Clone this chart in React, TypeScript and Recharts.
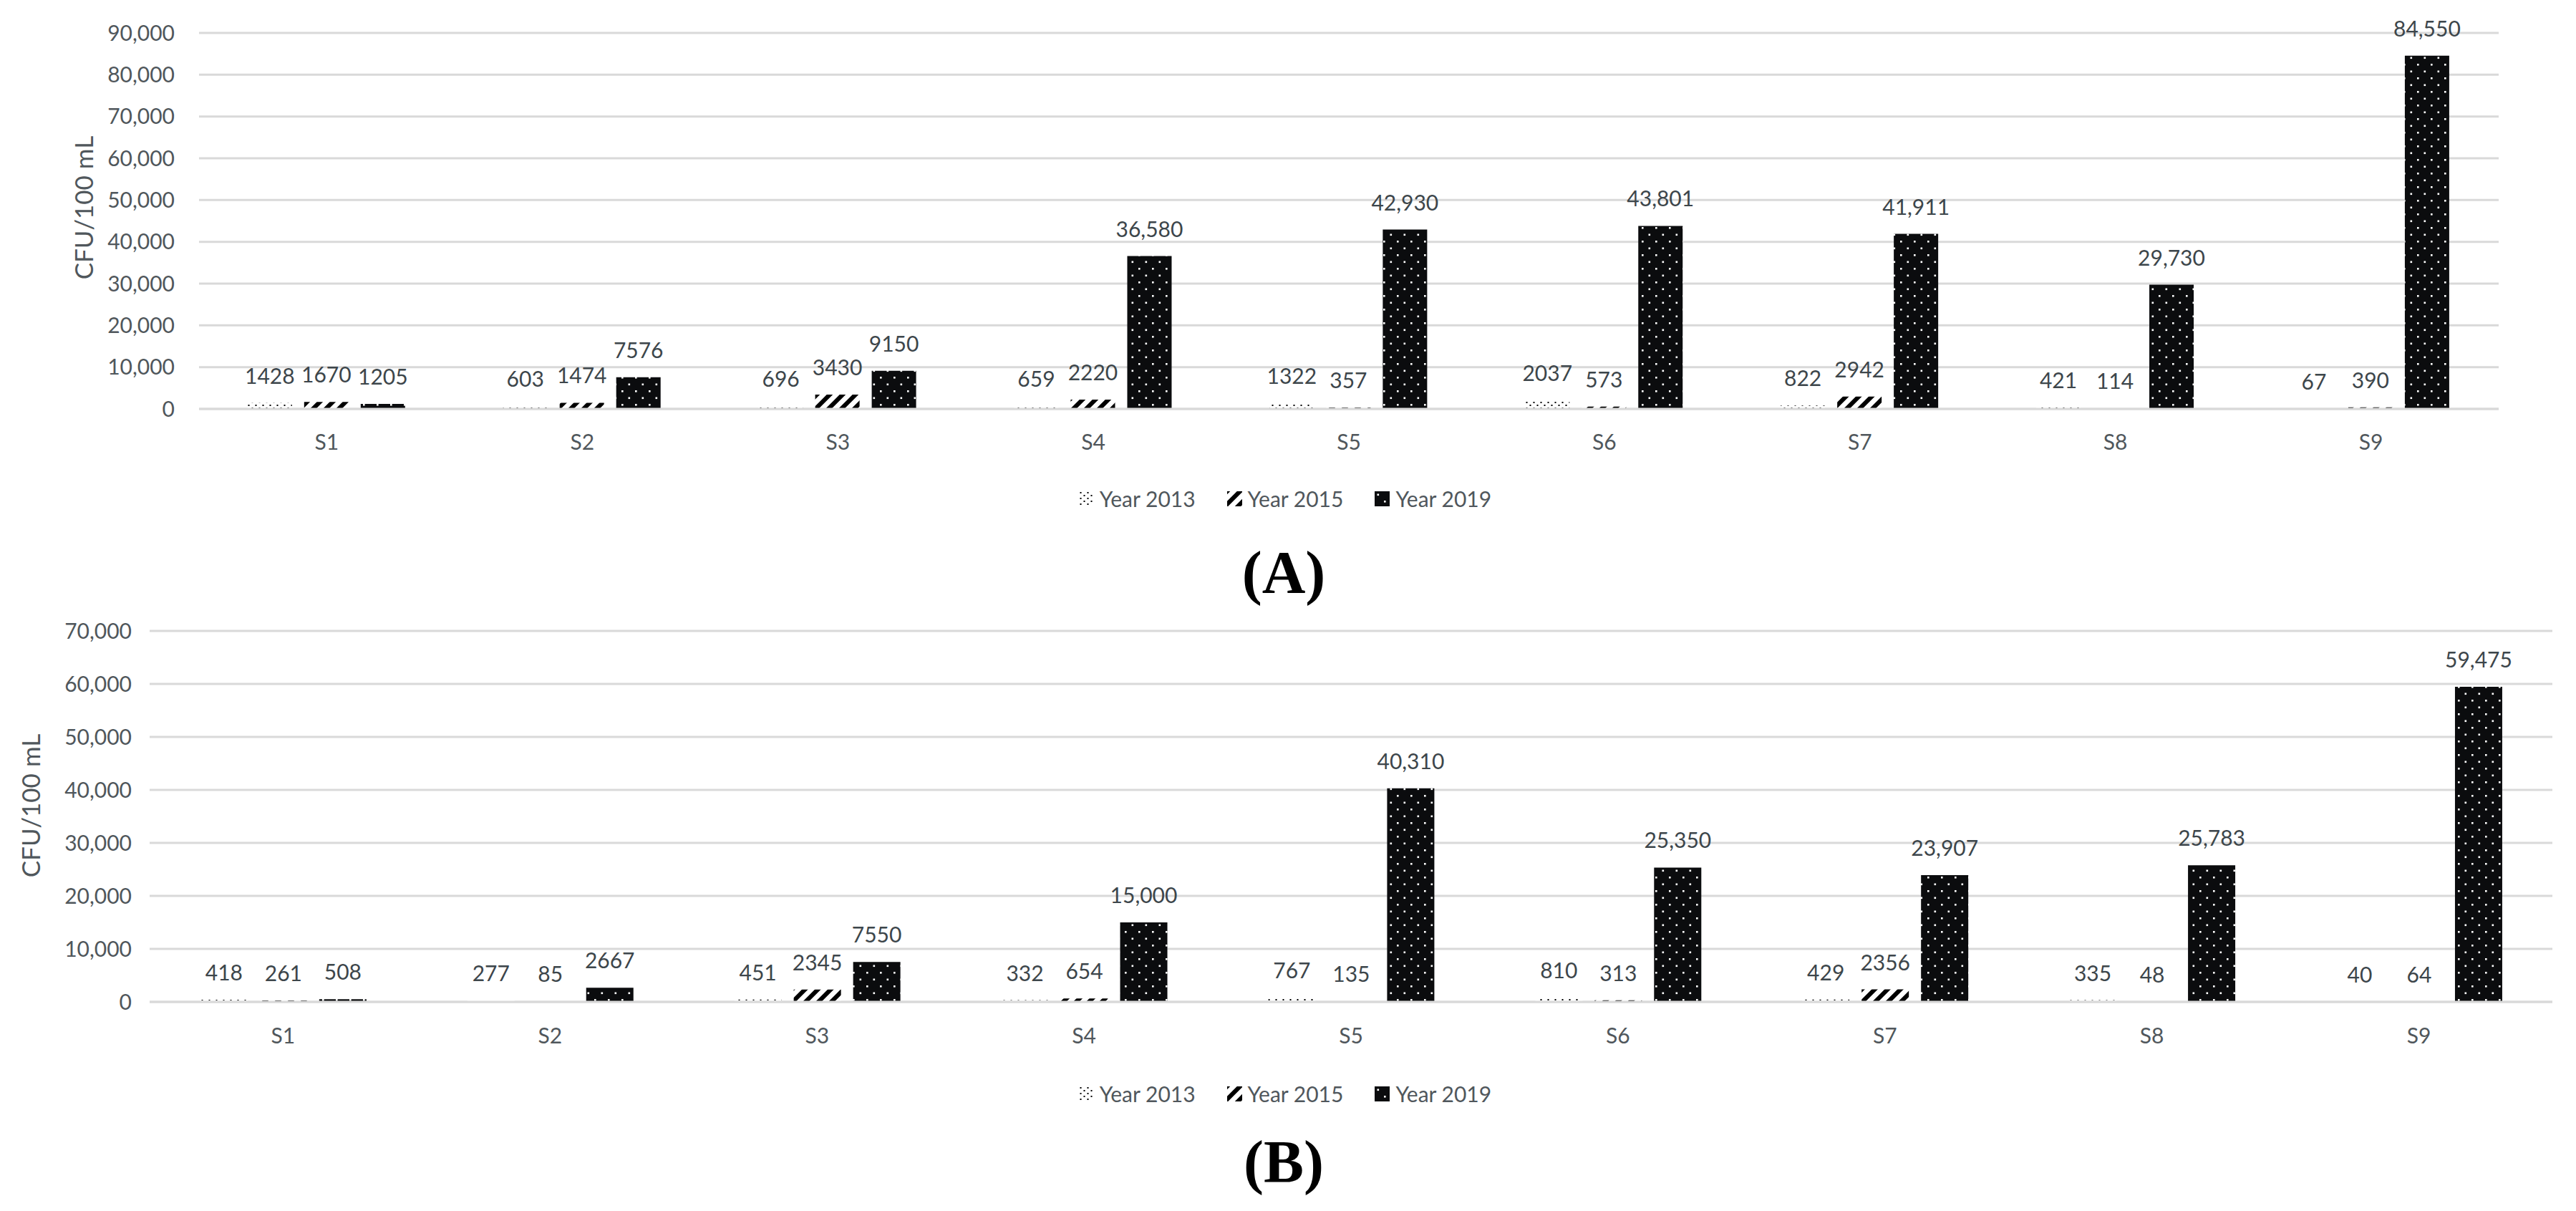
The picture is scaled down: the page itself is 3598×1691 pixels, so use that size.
import React from 'react';
import { BarChart, Bar, XAxis, YAxis, CartesianGrid, Legend, LabelList } from 'recharts';

const sites = ['S1', 'S2', 'S3', 'S4', 'S5', 'S6', 'S7', 'S8', 'S9'];
const seriesNames = ['Year 2013', 'Year 2015', 'Year 2019'];

const panelA2013 = [1428, 603, 696, 659, 1322, 2037, 822, 421, 67];
const panelA2015 = [1670, 1474, 3430, 2220, 357, 573, 2942, 114, 390];
const panelA2019 = [1205, 7576, 9150, 36580, 42930, 43801, 41911, 29730, 84550];

const panelB2013 = [418, 277, 451, 332, 767, 810, 429, 335, 40];
const panelB2015 = [261, 85, 2345, 654, 135, 313, 2356, 48, 64];
const panelB2019 = [508, 2667, 7550, 15000, 40310, 25350, 23907, 25783, 59475];

const ticksA = [0, 10000, 20000, 30000, 40000, 50000, 60000, 70000, 80000, 90000];
const ticksB = [0, 10000, 20000, 30000, 40000, 50000, 60000, 70000];

const yTitle = 'CFU/100 mL';

const FONT = 'Lato, "Open Sans", "DejaVu Sans", sans-serif';
const TICK_COLOR = '#50575c';
const LABEL_COLOR = '#3d464b';
const GRID = '#d9d9d9';

const buildRows = (a: number[], b: number[], c: number[]) =>
  sites.map((s, i) => ({ site: s, y2013: a[i], y2015: b[i], y2019: c[i] }));

const rowsA = buildRows(panelA2013, panelA2015, panelA2019);
const rowsB = buildRows(panelB2013, panelB2015, panelB2019);

const fmtComma = (v: number) => Number(v).toLocaleString('en-US');
const fmtLabel = (v: any) => (Number(v) >= 10000 ? fmtComma(Number(v)) : String(v));

function PatternDefs({ prefix }: { prefix: string }) {
  return (
    <defs>
      <pattern id={`${prefix}-p2013`} patternUnits="userSpaceOnUse" width="10" height="8">
        <rect width="10" height="8" fill="#ffffff" />
        <rect x="1.5" y="1" width="2" height="2" fill="#000000" />
        <rect x="6.5" y="5" width="2" height="2" fill="#000000" />
      </pattern>
      <pattern id={`${prefix}-p2015`} patternUnits="userSpaceOnUse" width="18" height="18">
        <rect width="18" height="18" fill="#ffffff" />
        <path d="M-4.5,4.5 L4.5,-4.5 M0,18 L18,0 M13.5,22.5 L22.5,13.5" stroke="#000000" strokeWidth="6" />
      </pattern>
      <pattern id={`${prefix}-p2019`} patternUnits="userSpaceOnUse" width="19" height="19">
        <rect width="19" height="19" fill="#0b0c0e" />
        <rect x="3.5" y="3.5" width="2.6" height="2.6" fill="#ffffff" />
        <rect x="13" y="13" width="2.6" height="2.6" fill="#ffffff" />
      </pattern>
    </defs>
  );
}

const keys = ['y2013', 'y2015', 'y2019'];
const patKeys = ['p2013', 'p2015', 'p2019'];

function LegendContent({ prefix }: { prefix: string }) {
  return (
    <div
      style={{
        height: 40,
        display: 'flex',
        alignItems: 'center',
        justifyContent: 'center',
        gap: 44,
        paddingRight: 8,
        fontFamily: FONT,
        fontSize: 30,
        color: TICK_COLOR,
      }}
    >
      {seriesNames.map((n, i) => (
        <div key={n} style={{ display: 'flex', alignItems: 'center', gap: 8 }}>
          <svg width={21} height={21} style={{ display: 'block' }}>
            <PatternDefs prefix={`lg-${prefix}-${i}`} />
            <rect width={21} height={21} fill={`url(#lg-${prefix}-${i}-${patKeys[i]})`} />
          </svg>
          <span style={{ lineHeight: '40px' }}>{n}</span>
        </div>
      ))}
    </div>
  );
}

type PanelProps = {
  prefix: string;
  rows: any[];
  ticks: number[];
  max: number;
  height: number;
  margin: { top: number; right: number; left: number; bottom: number };
  yAxisWidth: number;
  yTickMargin: number;
  xAxisHeight: number;
  xTickMargin: number;
  titleX: number;
  titleY: number;
};

function Panel(p: PanelProps) {
  return (
    <BarChart
      width={3598}
      height={p.height}
      data={p.rows}
      margin={p.margin}
      barCategoryGap="19%"
      barGap={17}
    >
      <PatternDefs prefix={p.prefix} />
      <CartesianGrid vertical={false} stroke={GRID} strokeWidth={3} />
      <XAxis
        dataKey="site"
        interval={0}
        tickLine={false}
        tickSize={0}
        tickMargin={p.xTickMargin}
        height={p.xAxisHeight}
        axisLine={{ stroke: GRID, strokeWidth: 3 }}
        tick={{ fill: TICK_COLOR, fontSize: 30, fontFamily: FONT }}
      />
      <YAxis
        domain={[0, p.max]}
        ticks={p.ticks}
        interval={0}
        tickFormatter={fmtComma}
        axisLine={false}
        tickLine={false}
        tickSize={0}
        tickMargin={p.yTickMargin}
        width={p.yAxisWidth}
        tick={{ fill: TICK_COLOR, fontSize: 30, fontFamily: FONT }}
        label={{
          content: () => (
            <text
              x={p.titleX}
              y={p.titleY}
              transform={`rotate(-90 ${p.titleX} ${p.titleY})`}
              textAnchor="middle"
              dominantBaseline="central"
              fill={TICK_COLOR}
              fontSize={35}
              fontFamily={FONT}
            >
              {yTitle}
            </text>
          ),
        }}
      />
      <Legend
        verticalAlign="bottom"
        align="center"
        wrapperStyle={{ left: 0, width: 3598, bottom: p.margin.bottom }}
        content={() => <LegendContent prefix={p.prefix} />}
      />
      {keys.map((k, i) => (
        <Bar
          key={k}
          dataKey={k}
          name={seriesNames[i]}
          fill={`url(#${p.prefix}-${patKeys[i]})`}
          isAnimationActive={false}
        >
          <LabelList
            dataKey={k}
            position="top"
            offset={27}
            formatter={fmtLabel}
            fill={LABEL_COLOR}
            fontSize={30}
            fontFamily={FONT}
          />
        </Bar>
      ))}
    </BarChart>
  );
}

const captionStyle: React.CSSProperties = {
  position: 'absolute',
  left: 0,
  width: 3586,
  textAlign: 'center',
  fontFamily: '"Liberation Serif", "Times New Roman", Times, serif',
  fontWeight: 'bold',
  fontSize: 84,
  lineHeight: '84px',
  height: 84,
  color: '#000',
};

export default function App() {
  return (
    <div style={{ position: 'absolute', left: 0, top: 0, width: 3598, height: 1691, background: '#ffffff', overflow: 'hidden' }}>
      <div style={{ position: 'absolute', left: 0, top: 0 }}>
        <Panel
          prefix="A"
          rows={rowsA}
          ticks={ticksA}
          max={90000}
          height={760}
          margin={{ top: 46, right: 108, left: 0, bottom: 44 }}
          yAxisWidth={278}
          yTickMargin={34}
          xAxisHeight={105}
          xTickMargin={36}
          titleX={116}
          titleY={290}
        />
      </div>
      <div style={{ ...captionStyle, top: 758 }}>(A)</div>
      <div style={{ position: 'absolute', left: 0, top: 850 }}>
        <Panel
          prefix="B"
          rows={rowsB}
          ticks={ticksB}
          max={70000}
          height={760}
          margin={{ top: 31, right: 33, left: 0, bottom: 63 }}
          yAxisWidth={209}
          yTickMargin={25}
          xAxisHeight={108}
          xTickMargin={37}
          titleX={42}
          titleY={275}
        />
      </div>
      <div style={{ ...captionStyle, top: 1581 }}>(B)</div>
    </div>
  );
}
